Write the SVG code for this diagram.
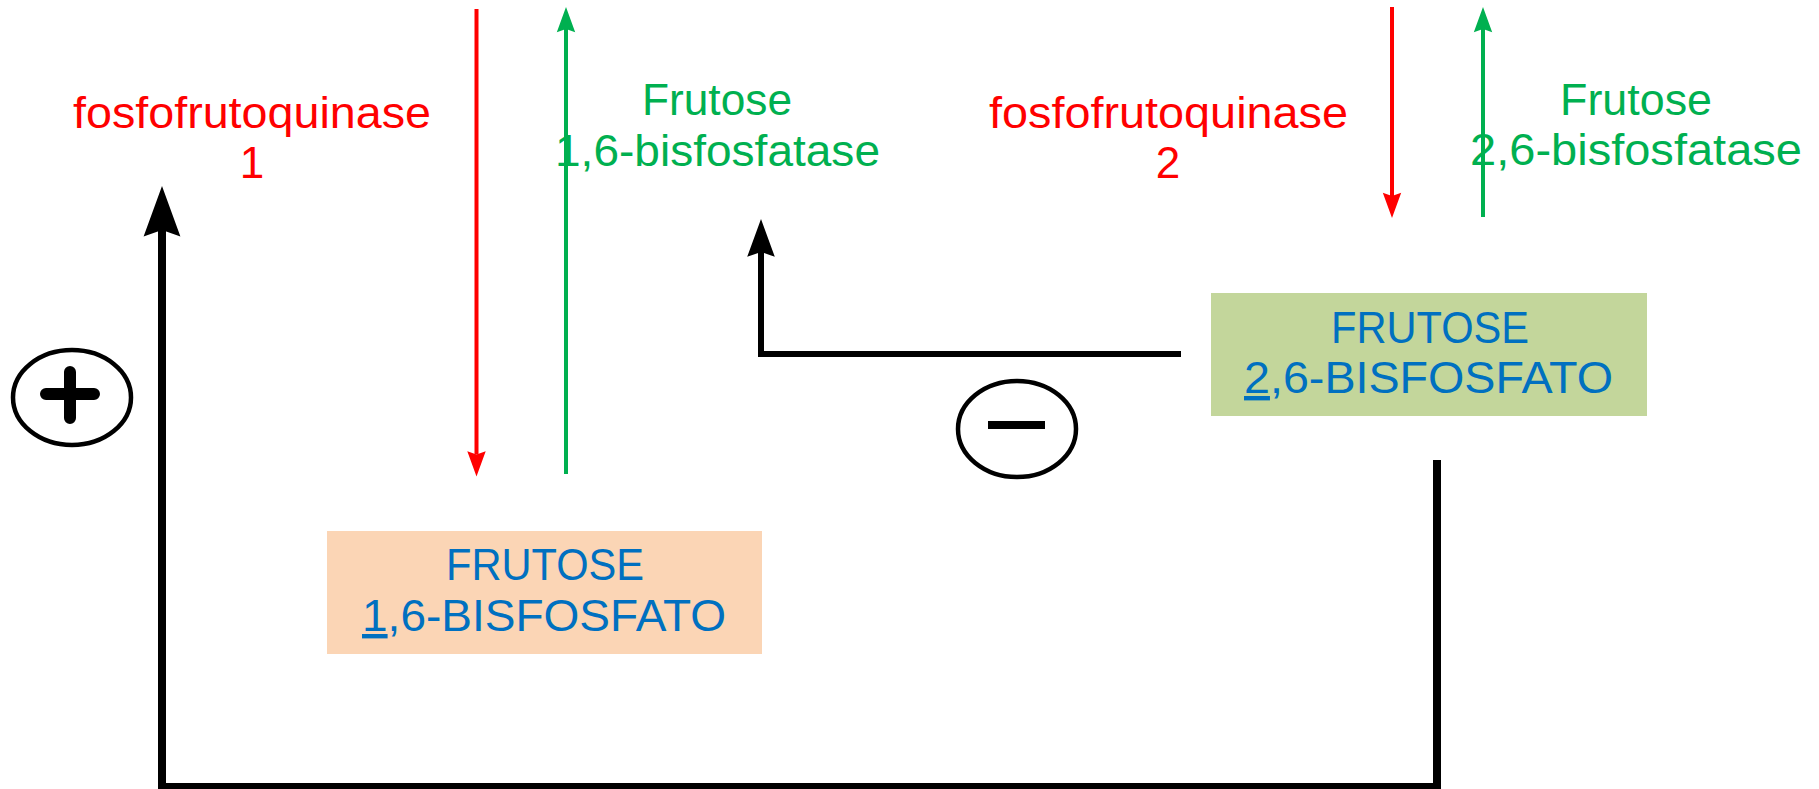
<svg xmlns="http://www.w3.org/2000/svg" width="1819" height="789" viewBox="0 0 1819 789">
  <style>
    text { font-family: "Liberation Sans", Arial, sans-serif; font-size: 44px; }
    .enz-k { fill: #FF0000; }
    .enz-p { fill: #00B050; }
    .met { fill: #0070C0; }
    .sign { fill: none; stroke: #000; stroke-width: 4.5; }
    .reg { fill: none; stroke: #000; stroke-linejoin: miter; }
  </style>
  <defs>
    <marker id="ah-black" markerUnits="strokeWidth" markerWidth="8" markerHeight="6" orient="auto" overflow="visible" refX="0" refY="0">
      <path d="M-0.8,-2.3 L5.5,0 L-0.8,2.3 L0,0 Z" fill="#000"/>
    </marker>
    <marker id="ah-red" markerUnits="strokeWidth" markerWidth="8" markerHeight="6" orient="auto" overflow="visible" refX="0" refY="0">
      <path d="M-0.8,-2.3 L5.5,0 L-0.8,2.3 L0,0 Z" fill="#FF0000"/>
    </marker>
    <marker id="ah-green" markerUnits="strokeWidth" markerWidth="8" markerHeight="6" orient="auto" overflow="visible" refX="0" refY="0">
      <path d="M-0.8,-2.3 L5.5,0 L-0.8,2.3 L0,0 Z" fill="#00B050"/>
    </marker>
  </defs>

  <rect width="1819" height="789" fill="#fff"/>

  <!-- reaction arrows and regulation lines -->
  <g id="connectors">
    <path d="M476.5,9 V454.5" stroke="#FF0000" stroke-width="4" fill="none" marker-end="url(#ah-red)"/>
    <path d="M566,474 V29" stroke="#00B050" stroke-width="4" fill="none" marker-end="url(#ah-green)"/>
    <path d="M1392,7 V196" stroke="#FF0000" stroke-width="4" fill="none" marker-end="url(#ah-red)"/>
    <path d="M1483,217 V29" stroke="#00B050" stroke-width="4" fill="none" marker-end="url(#ah-green)"/>
    <path class="reg" d="M1437,460 V787 H162 V230" stroke-width="8" marker-end="url(#ah-black)"/>
    <path class="reg" d="M1181,354 H761 V252" stroke-width="6" marker-end="url(#ah-black)"/>
  </g>

  <!-- enzymes -->
  <g id="pfk1">
    <text class="enz-k" x="73" y="128" textLength="358" lengthAdjust="spacingAndGlyphs">fosfofrutoquinase</text>
    <text class="enz-k" x="252" y="178" text-anchor="middle">1</text>
  </g>
  <g id="fbpase1">
    <text class="enz-p" x="642" y="115" textLength="150" lengthAdjust="spacingAndGlyphs">Frutose</text>
    <text class="enz-p" x="555" y="166" textLength="325" lengthAdjust="spacingAndGlyphs">1,6-bisfosfatase</text>
  </g>
  <g id="pfk2">
    <text class="enz-k" x="989" y="128" textLength="359" lengthAdjust="spacingAndGlyphs">fosfofrutoquinase</text>
    <text class="enz-k" x="1168" y="178" text-anchor="middle">2</text>
  </g>
  <g id="fbpase2">
    <text class="enz-p" x="1560" y="115" textLength="152" lengthAdjust="spacingAndGlyphs">Frutose</text>
    <text class="enz-p" x="1470" y="165" textLength="332" lengthAdjust="spacingAndGlyphs">2,6-bisfosfatase</text>
  </g>

  <!-- metabolites -->
  <g id="f16bp">
    <rect x="327" y="531" width="435" height="123" fill="#FBD5B5"/>
    <text class="met" x="446" y="580" textLength="198" lengthAdjust="spacingAndGlyphs">FRUTOSE</text>
    <text class="met" x="362" y="631" textLength="364" lengthAdjust="spacingAndGlyphs"><tspan text-decoration="underline">1</tspan>,6-BISFOSFATO</text>
  </g>
  <g id="f26bp">
    <rect x="1211" y="293" width="436" height="123" fill="#C3D69B"/>
    <text class="met" x="1331" y="343" textLength="198" lengthAdjust="spacingAndGlyphs">FRUTOSE</text>
    <text class="met" x="1244" y="393" textLength="369" lengthAdjust="spacingAndGlyphs"><tspan text-decoration="underline">2</tspan>,6-BISFOSFATO</text>
  </g>

  <!-- activation / inhibition signs -->
  <g id="activation">
    <ellipse class="sign" cx="72" cy="397.5" rx="59" ry="47.5"/>
    <path d="M46,394 H94 M70,372 V418" stroke="#000" stroke-width="12" stroke-linecap="round" fill="none"/>
  </g>
  <g id="inhibition">
    <ellipse class="sign" cx="1017" cy="429" rx="59" ry="48"/>
    <path d="M988,425 H1045" stroke="#000" stroke-width="8" fill="none"/>
  </g>
</svg>
